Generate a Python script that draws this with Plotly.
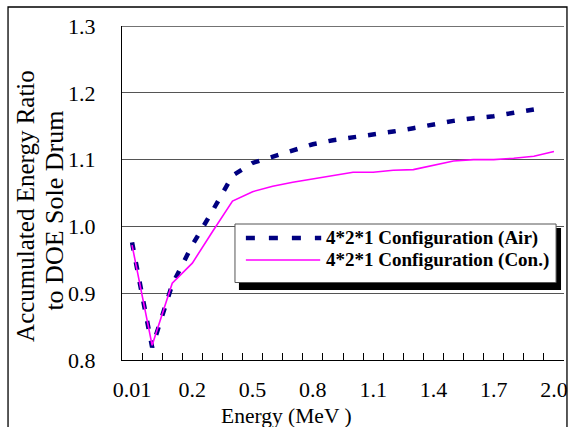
import plotly.graph_objects as go

# Energy bins (MeV), plotted as evenly spaced categories
energies = ["0.01", "0.05", "0.1", "0.2", "0.3", "0.4", "0.5", "0.6", "0.7", "0.8",
            "0.9", "1.0", "1.1", "1.2", "1.3", "1.4", "1.5", "1.6", "1.7", "1.8",
            "1.9", "2.0"]
tick_labels = ["0.01", "0.2", "0.5", "0.8", "1.1", "1.4", "1.7", "2.0"]

# Ratio of accumulated energy relative to the sole DOE drum
ratio_air = [0.976, 0.819, 0.913, 0.972, 1.023, 1.076, 1.095, 1.104, 1.114, 1.123,
             1.129, 1.133, 1.137, 1.142, 1.147, 1.153, 1.158, 1.162, 1.165, 1.170,
             1.175]
ratio_con = [0.972, 0.822, 0.915, 0.945, 0.992, 1.038, 1.052, 1.060, 1.066, 1.071,
             1.076, 1.081, 1.081, 1.084, 1.085, 1.091, 1.098, 1.100, 1.100, 1.102,
             1.105, 1.112]

name_air = "4*2*1 Configuration (Air)"
name_con = "4*2*1 Configuration (Con.)"
y_title_lines = ["Accumulated Energy Ratio", "to DOE Sole Drum"]
x_title = "Energy (MeV )"

FONT = "Liberation Serif"
W, H = 573, 427
ML, MR, MT, MB = 122, 5, 26, 67
PW, PH = W - ML - MR, H - MT - MB


def px(x):
    return (x - ML) / PW


def py(y):
    return (H - MB - y) / PH


pos = {e: i for i, e in enumerate(energies)}

fig = go.Figure()
fig.add_trace(go.Scatter(
    x=[pos[e] for e in energies[:len(ratio_air)]], y=ratio_air, mode="lines",
    name=name_air, line=dict(color="#000080", width=4.5, dash="8px,12px"),
))
fig.add_trace(go.Scatter(
    x=[pos[e] for e in energies[:len(ratio_con)]], y=ratio_con, mode="lines",
    name=name_con, line=dict(color="#ff00ff", width=1.6),
))

shapes = [
    # outer frame of the chart
    dict(type="rect", xref="paper", yref="paper", x0=px(7), x1=px(571), y0=py(470), y1=py(7),
         line=dict(color="black", width=1.3), layer="below"),
    # top grid line at 1.3
    dict(type="line", xref="paper", yref="y", x0=0, x1=1, y0=1.3, y1=1.3,
         line=dict(color="#444444", width=1.5)),
    # legend shadow and box
    dict(type="rect", xref="paper", yref="paper", x0=px(240), x1=px(565), y0=py(290), y1=py(228),
         fillcolor="black", line=dict(width=0)),
    dict(type="rect", xref="paper", yref="paper", x0=px(236), x1=px(560), y0=py(282.5), y1=py(224),
         fillcolor="white", line=dict(color="#555555", width=1)),
    # legend samples
    dict(type="line", xref="paper", yref="paper", x0=px(247), x1=px(323), y0=py(238), y1=py(238),
         line=dict(color="#000080", width=4.5, dash="9px,14px")),
    dict(type="line", xref="paper", yref="paper", x0=px(247), x1=px(322), y0=py(260), y1=py(260),
         line=dict(color="#ff00ff", width=1.6)),
]

annotations = [
    dict(text="<b>" + name_air + "</b>", xref="paper", yref="paper", x=px(326), y=py(238),
         xanchor="left", yanchor="middle", showarrow=False,
         font=dict(family=FONT, size=19, color="black")),
    dict(text="<b>" + name_con + "</b>", xref="paper", yref="paper", x=px(326), y=py(260),
         xanchor="left", yanchor="middle", showarrow=False,
         font=dict(family=FONT, size=19, color="black")),
    dict(text=x_title, xref="paper", yref="paper", x=px(288), y=py(416),
         xanchor="center", yanchor="middle", showarrow=False,
         font=dict(family=FONT, size=21.5, color="black")),
    dict(text=y_title_lines[0], xref="paper", yref="paper",
         x=px(24), y=py(206), xanchor="center", yanchor="middle", textangle=-90,
         showarrow=False, font=dict(family=FONT, size=25, color="black")),
    dict(text=y_title_lines[1], xref="paper", yref="paper",
         x=px(53), y=py(211), xanchor="center", yanchor="middle", textangle=-90,
         showarrow=False, font=dict(family=FONT, size=26, color="black")),
]

fig.update_layout(
    width=W, height=H,
    margin=dict(l=ML, r=MR, t=MT, b=MB),
    paper_bgcolor="white", plot_bgcolor="white",
    showlegend=False,
    shapes=shapes, annotations=annotations,
    font=dict(family=FONT, size=22, color="black"),
    xaxis=dict(
        range=[-0.5, len(energies) - 0.5],
        tickmode="array", tickvals=[pos[t] for t in tick_labels], ticktext=tick_labels,
        ticks="", showgrid=False, zeroline=False,
        showline=True, linecolor="black", linewidth=1,
        ticklabelstandoff=10,
        minor=dict(tickmode="array", tickvals=[i + 0.5 for i in range(len(energies) - 1)],
                   ticks="inside", ticklen=7, tickcolor="black", tickwidth=1, showgrid=False),
        tickfont=dict(family=FONT, size=22, color="black"),
    ),
    yaxis=dict(
        range=[0.8, 1.3], dtick=0.1, tick0=0.8, tickformat=".1f",
        ticks="", showgrid=True, gridcolor="#555555", gridwidth=1, zeroline=False,
        showline=True, linecolor="black", linewidth=1,
        ticklabelstandoff=21,
        tickfont=dict(family=FONT, size=22, color="black"),
    ),
)

fig.write_html("out.html")
